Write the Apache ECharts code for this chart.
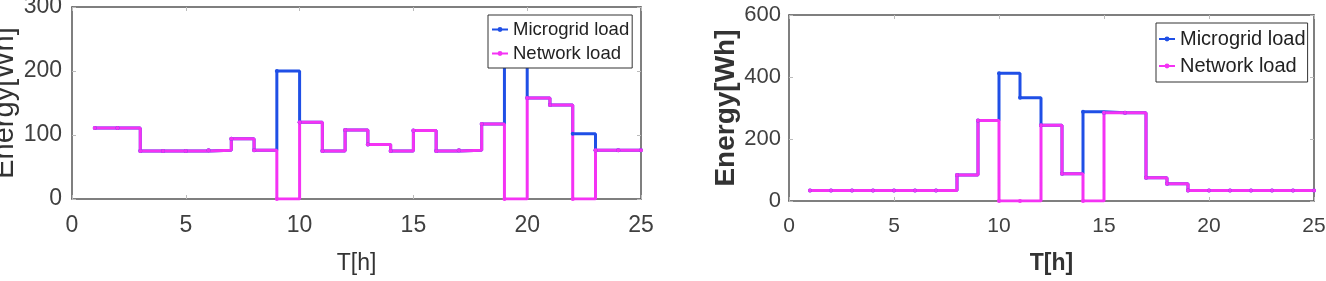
<!DOCTYPE html>
<html>
<head>
<meta charset="utf-8">
<script src="https://cdn.jsdelivr.net/npm/echarts@6/dist/echarts.min.js"></script>
<style>
  html, body { margin: 0; padding: 0; background: #ffffff; }
  #chart { width: 1326px; height: 281px; }
</style>
</head>
<body>
<div id="chart"></div>
<script>
// hours 1..25 (stairs plot)
const hours = [1, 2, 3, 4, 5, 6, 7, 8, 9, 10, 11, 12, 13, 14, 15, 16, 17, 18, 19, 20, 21, 22, 23, 24, 25];

// left panel
const leftMicrogrid = [111, 111, 75, 75, 75, 76, 94, 76, 200, 120, 75, 108, 85, 75, 107, 75, 76, 117, 250, 158, 147, 102, 76, 76, 76];
const leftNetwork   = [111, 111, 75, 75, 75, 76, 94, 76, 0, 120, 75, 108, 85, 75, 107, 75, 76, 117, 0, 158, 147, 0, 76, 76, 76];

// right panel
const rightMicrogrid = [34, 34, 34, 34, 34, 34, 34, 84, 260, 412, 333, 244, 88, 288, 285, 285, 75, 56, 34, 34, 34, 34, 34, 34, 34];
const rightNetwork   = [34, 34, 34, 34, 34, 34, 34, 84, 260, 0, 0, 244, 88, 0, 285, 285, 75, 56, 34, 34, 34, 34, 34, 34, 34];

const seriesNames = ['Microgrid load', 'Network load'];
const BLUE = '#1f4fe6';
const MAGENTA = '#f433f4';
const FONT = 'Liberation Sans';

function pairs(vals) {
  return hours.map((h, i) => [h, vals[i]]);
}

const frameLine = { show: true, onZero: false, lineStyle: { color: '#555', width: 1.5 } };
const innerTick = { show: true, inside: true, length: 4, lineStyle: { color: '#bbb' } };

function xAxes(gridIndex, fontSize, nameSize, bold, nameGap) {
  return [
    {
      gridIndex: gridIndex, type: 'value', min: 0, max: 25, interval: 5,
      name: 'T[h]', nameLocation: 'middle', nameGap: nameGap,
      nameTextStyle: { fontFamily: FONT, fontSize: nameSize, color: '#333', fontWeight: bold ? 'bold' : 'normal' },
      axisLine: frameLine, axisTick: innerTick,
      axisLabel: { fontFamily: FONT, fontSize: fontSize, color: '#404040', margin: 15 },
      splitLine: { show: false }
    },
    {
      gridIndex: gridIndex, type: 'value', position: 'top', min: 0, max: 25, interval: 5,
      axisLine: frameLine, axisTick: innerTick,
      axisLabel: { show: false }, splitLine: { show: false }
    }
  ];
}

function yAxes(gridIndex, max, interval, fontSize, nameSize, bold, nameGap, margin) {
  return [
    {
      gridIndex: gridIndex, type: 'value', min: 0, max: max, interval: interval,
      name: 'Energy[Wh]', nameLocation: 'middle', nameGap: nameGap,
      nameTextStyle: { fontFamily: FONT, fontSize: nameSize, color: '#333', fontWeight: bold ? 'bold' : 'normal' },
      axisLine: frameLine, axisTick: innerTick,
      axisLabel: { fontFamily: FONT, fontSize: fontSize, color: '#404040', margin: margin },
      splitLine: { show: false }
    },
    {
      gridIndex: gridIndex, type: 'value', position: 'right', min: 0, max: max, interval: interval,
      axisLine: frameLine, axisTick: innerTick,
      axisLabel: { show: false }, splitLine: { show: false }
    }
  ];
}

function stairs(name, color, vals, xIdx, yIdx, width) {
  return {
    name: name, type: 'line', step: 'end',
    xAxisIndex: xIdx, yAxisIndex: yIdx,
    data: pairs(vals),
    symbol: 'circle', symbolSize: 4,
    itemStyle: { color: color },
    lineStyle: { color: color, width: width },
    animation: false
  };
}

const chart = echarts.init(document.getElementById('chart'), null, { renderer: 'canvas' });
chart.setOption({
  backgroundColor: '#ffffff',
  animation: false,
  grid: [
    { left: 72, right: 685, top: 7, bottom: 82, outerBoundsMode: 'none', containLabel: false },
    { left: 789, right: 12, top: 15, bottom: 80, outerBoundsMode: 'none', containLabel: false }
  ],
  xAxis: [].concat(xAxes(0, 23, 23, false, 53), xAxes(1, 21, 23, true, 51)),
  yAxis: [].concat(yAxes(0, 300, 100, 23, 29, false, 52, 10), yAxes(1, 600, 200, 22, 28, true, 49, 8)),
  legend: [
    {
      left: 488, top: 15, orient: 'vertical', itemGap: 5,
      padding: [5, 3, 5, 3], itemWidth: 16, itemHeight: 6,
      backgroundColor: '#fff', borderColor: '#333', borderWidth: 1,
      textStyle: { fontFamily: FONT, fontSize: 18.5, color: '#222' },
      data: seriesNames
    },
    {
      left: 1156, top: 23, orient: 'vertical', itemGap: 7,
      padding: [6, 2, 6, 2], itemWidth: 16, itemHeight: 6,
      backgroundColor: '#fff', borderColor: '#333', borderWidth: 1,
      textStyle: { fontFamily: FONT, fontSize: 20, color: '#222' },
      data: seriesNames
    }
  ],
  series: [
    stairs(seriesNames[0], BLUE, leftMicrogrid, 0, 0, 3),
    stairs(seriesNames[1], MAGENTA, leftNetwork, 0, 0, 3),
    stairs(seriesNames[0], BLUE, rightMicrogrid, 2, 2, 3),
    stairs(seriesNames[1], MAGENTA, rightNetwork, 2, 2, 3)
  ]
});
</script>
</body>
</html>
